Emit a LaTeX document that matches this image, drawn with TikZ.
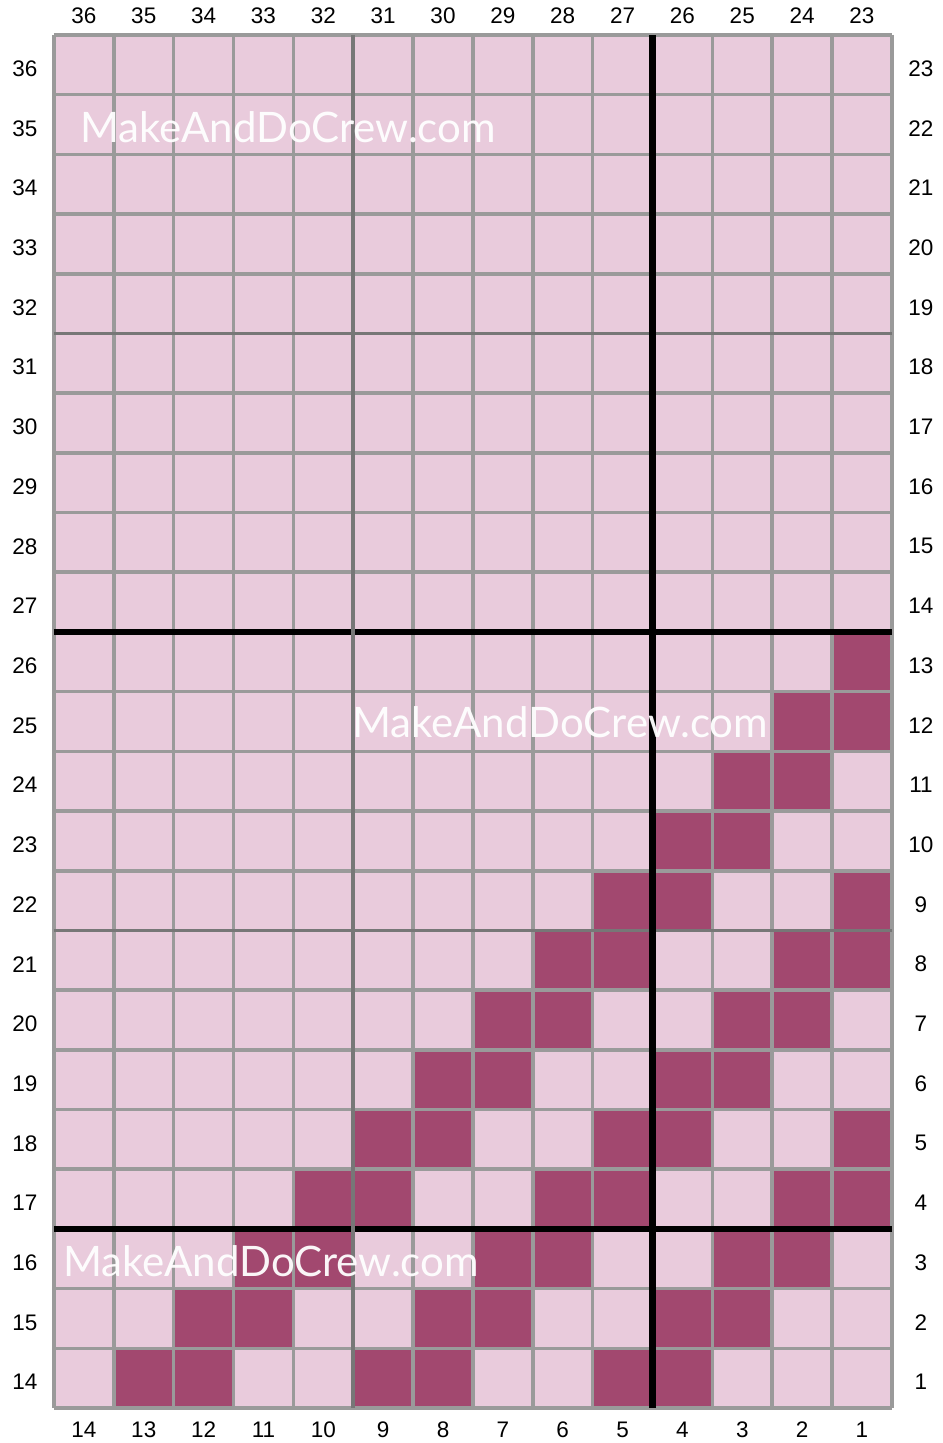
\documentclass[tikz,border=0pt]{standalone}
\usepackage{fontspec}
\setmainfont{Liberation Sans}
\newfontfamily\wmfont{Lato}
\usepackage{tikz}
\usetikzlibrary{positioning}
\definecolor{cellpink}{HTML}{E9CBDC}
\definecolor{cellplum}{HTML}{A2486F}
\definecolor{gridgray}{HTML}{9A9A9A}
\definecolor{fivegray}{HTML}{777777}

\begin{document}
\begin{tikzpicture}[
  x=59.85pt, y=-59.7pt,
  cell/.style={fill=cellplum},
  gridline/.style={draw=gridgray, line width=3.6pt},
  fiveline/.style={draw=fivegray, line width=3.6pt},
  tenline/.style={draw=black, line width=5.6pt},
  rowlabel/.style={font=\fontsize{22.5}{24}\selectfont, inner sep=0pt},
  watermark/.style={font=\wmfont\fontsize{42}{44}\selectfont, text=white,
                    text opacity=0.95, inner sep=0pt, anchor=base west}
]
\useasboundingbox (-0.902,-0.586) rectangle (14.854,23.585);

% Background of the chart
\fill[cellpink] (0,0) rectangle (14,23);

% Filled stitches (right row number / bottom column number)
\foreach \n/\b in {13/1, 12/2, 12/1, 11/3, 11/2, 10/4, 10/3,
                   9/5, 9/4, 9/1, 8/6, 8/5, 8/2, 8/1,
                   7/7, 7/6, 7/3, 7/2, 6/8, 6/7, 6/4, 6/3,
                   5/9, 5/8, 5/5, 5/4, 5/1, 4/10, 4/9, 4/6, 4/5, 4/2, 4/1,
                   3/11, 3/10, 3/7, 3/6, 3/3, 3/2,
                   2/12, 2/11, 2/8, 2/7, 2/4, 2/3,
                   1/13, 1/12, 1/9, 1/8, 1/5, 1/4}{
  \fill[cell] ({14-\b},{23-\n}) rectangle ++(1,1);
}

% Grid lines
\foreach \c in {0,...,14}{
  \draw[gridline] (\c,0) -- (\c,23);
}
\foreach \r in {0,...,23}{
  \draw[gridline] (0,\r) -- (14,\r);
}

% Every five and every ten stitches
\draw[fiveline] (0,5) -- (14,5);
\draw[fiveline] (0,15) -- (14,15);
\draw[tenline] (0,10) -- (14,10);
\draw[tenline] (0,20) -- (14,20);
\draw[fiveline] (5,0) -- (5,23);
\draw[tenline, line width=6.2pt] (10,0) -- (10,23);

% Column numbers
\foreach \c in {0,...,13}{
  \pgfmathtruncatemacro{\top}{36-\c}
  \pgfmathtruncatemacro{\bot}{14-\c}
  \node[rowlabel] (top\c) at ({\c+0.5},-0.318) {\top};
  \node[rowlabel] (bot\c) at ({\c+0.5},23.367) {\bot};
}

% Row numbers
\foreach \r in {0,...,22}{
  \pgfmathtruncatemacro{\lft}{36-\r}
  \pgfmathtruncatemacro{\rgt}{23-\r}
  \node[rowlabel] (lft\r) at (-0.485,{\r+0.565}) {\lft};
  \node[rowlabel] (rgt\r) at (14.486,{\r+0.565}) {\rgt};
}

% Watermarks
\node[watermark] (wm1) at (0.434,1.809) {MakeAndDoCrew.com};
\node[watermark] (wm2) at (4.98,11.76) {MakeAndDoCrew.com};
\node[watermark] (wm3) at (0.15,20.80) {MakeAndDoCrew.com};

\end{tikzpicture}
\end{document}
